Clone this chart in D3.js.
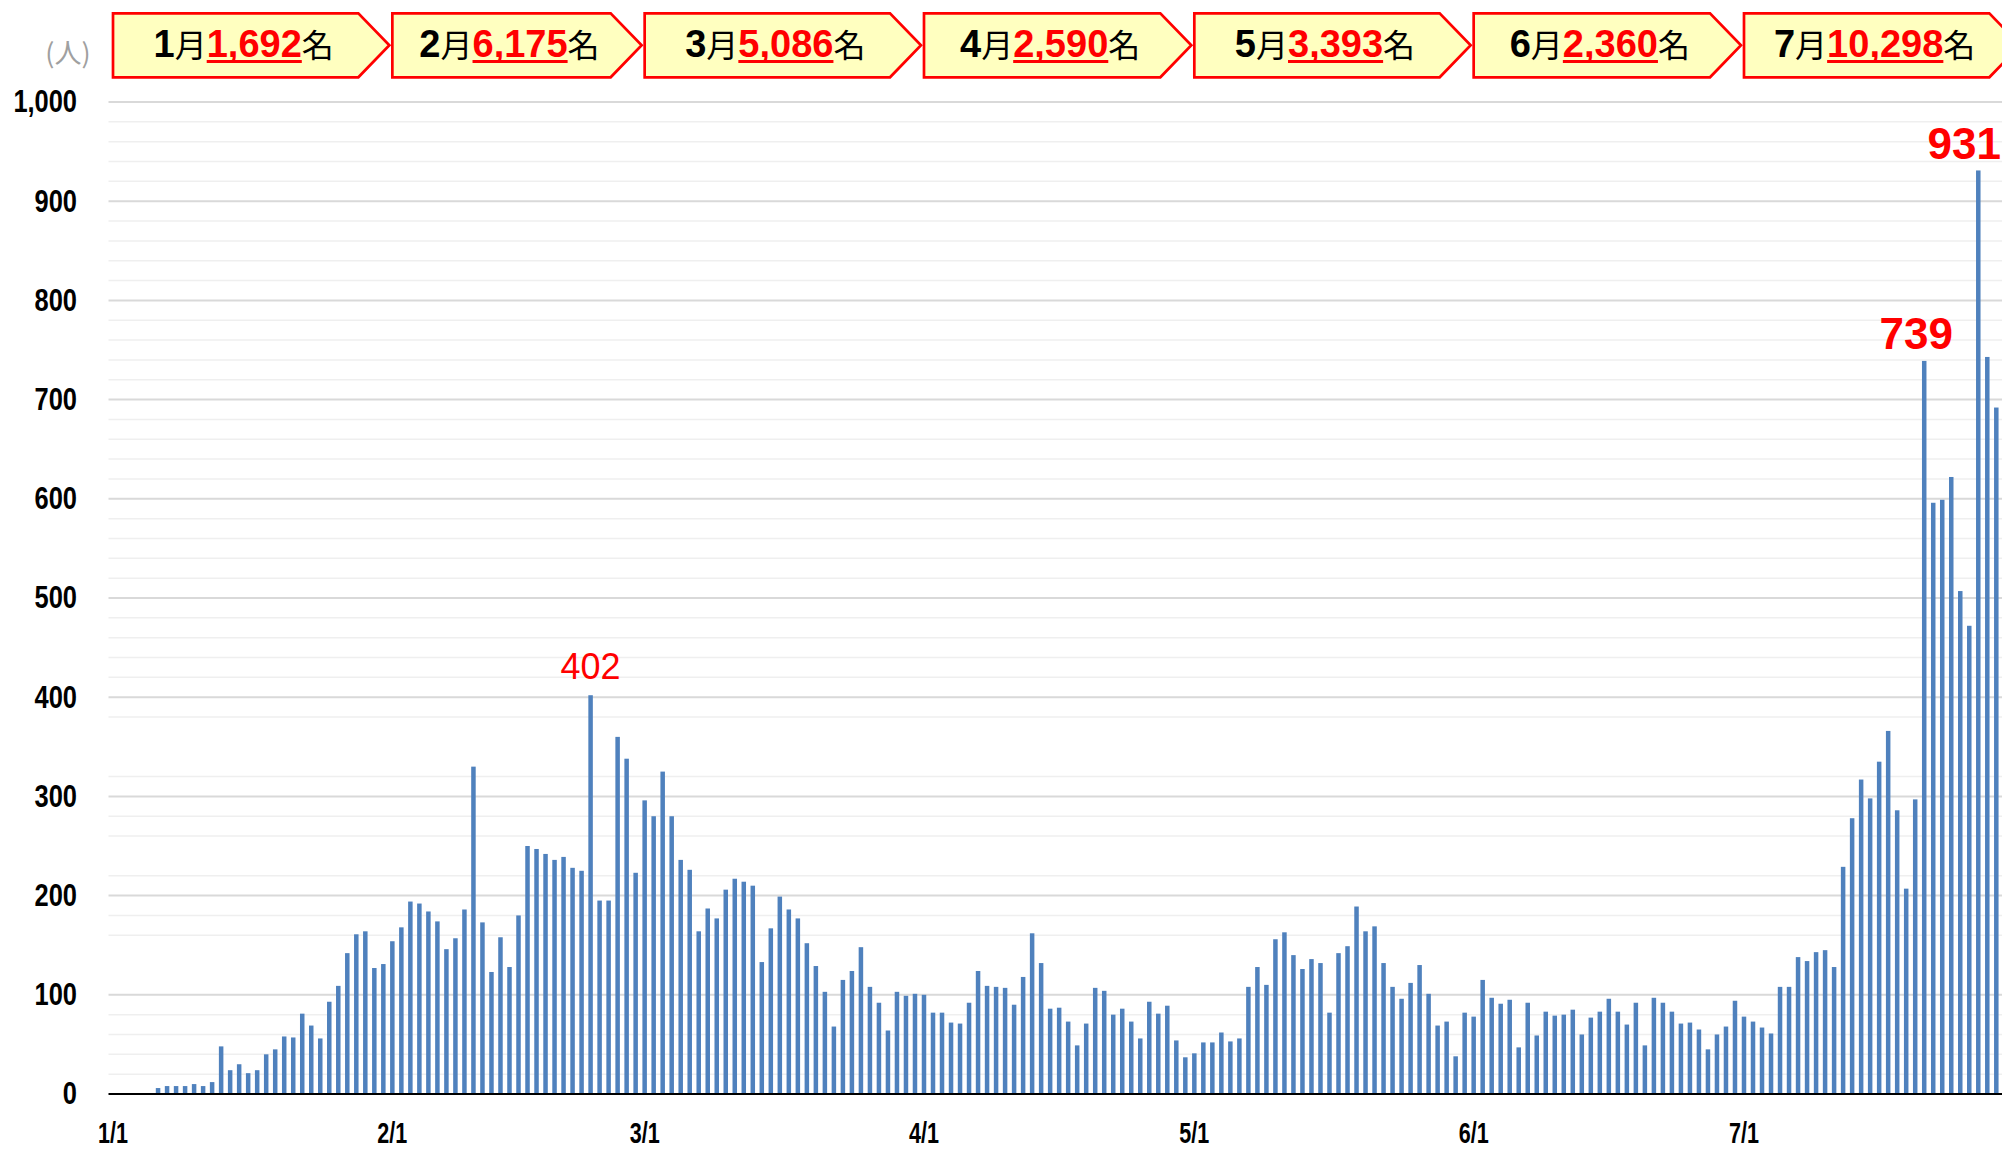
<!DOCTYPE html>
<html><head><meta charset="utf-8">
<script src="https://cdn.jsdelivr.net/npm/d3@7"></script>
<style>
html,body{margin:0;padding:0;background:#fff;}
svg{display:block;}
</style></head>
<body>
<svg id="chart" width="2002" height="1151"></svg>
<script>
// ---------------- data ----------------
const monthNames  = ["1月","2月","3月","4月","5月","6月","7月"];
const monthNums   = ["1","2","3","4","5","6","7"];
const monthTotals = ["1,692","6,175","5,086","2,590","3,393","2,360","10,298"];

const jan = [0,0,1,0,1,6,8,8,8,10,8,12,48,24,30,21,24,40,45,58,57,81,69,56,93,109,142,161,164,127,131];
const feb = [154,168,194,192,184,174,146,157,186,330,173,123,158,128,180,250,247,242,236,239,228,225,402,195,195,360,338,223];
const mar = [296,280,325,280,236,226,164,187,177,206,217,214,210,133,167,199,186,177,152,129,103,68,115,124,148,108,92,64,103,99,101];
const apr = [100,82,82,72,71,92,124,109,108,107,90,118,162,132,86,87,73,49,71,107,104,80,86,73,56,93,81,89,54,37];
const may = [41,52,52,62,53,56,108,128,110,156,163,140,126,136,132,82,142,149,189,164,169,132,108,96,112,130,101,69,73,38,82];
const jun = [78,115,97,91,95,47,92,59,83,79,80,85,60,77,83,96,83,70,92,49,97,92,83,71,72,65,45,60,68,94];
const jul = [78,73,67,61,108,108,138,134,143,145,128,229,278,317,298,335,366,286,207,297,739,596,599,622,507,472,931,743,692];

const yTicks      = [0,100,200,300,400,500,600,700,800,900,1000];
const yTickLabels = ["0","100","200","300","400","500","600","700","800","900","1,000"];
const yMinor      = [20,40,60,80,160,180,220,260,280,320,380,420,440,460,480,520,540,560,580,620,640,660,680,720,740,760,780,820,840,860,880,920,940,960,980];
const xTickLabels = ["1/1","2/1","3/1","4/1","5/1","6/1","7/1"];
const peakDates   = ["2/23","7/21","7/27"];
const unitLabel   = "(人)";

// build daily table
const monthly = [jan,feb,mar,apr,may,jun,jul];
const days = [];
monthly.forEach((arr,m)=>arr.forEach((v,d)=>days.push({date:(m+1)+"/"+(d+1), value:v})));

// ---------------- layout ----------------
const svg = d3.select("#chart");
const W = 2002, H = 1151;
const plotLeft = 108.5, step = 9.011;
const plotRight = plotLeft + step*days.length;
const yBase = 1094, yTop = 102;

const x = d3.scaleBand().domain(days.map(d=>d.date))
  .range([plotLeft, plotRight]).paddingInner(0.5).paddingOuter(0.25);
const y = d3.scaleLinear().domain([0,1000]).range([yBase, yTop]);
const cx = d => x(d) + x.bandwidth()/2;

function condense(sel, k){
  sel.each(function(){
    const len = this.getComputedTextLength();
    d3.select(this).attr("textLength", len*k).attr("lengthAdjust","spacingAndGlyphs");
  });
}

// gridlines
svg.append("g").selectAll("line").data(yMinor).join("line")
  .attr("x1", plotLeft).attr("x2", W).attr("y1", d=>y(d)).attr("y2", d=>y(d))
  .attr("stroke", "#efefef").attr("stroke-width", 1.5);
svg.append("g").selectAll("line").data(yTicks.filter(t=>t>0)).join("line")
  .attr("x1", plotLeft).attr("x2", W).attr("y1", d=>y(d)).attr("y2", d=>y(d))
  .attr("stroke", "#d9d9d9").attr("stroke-width", 2);

// bars
svg.append("g").selectAll("rect").data(days).join("rect")
  .attr("x", d=>x(d.date)).attr("width", x.bandwidth())
  .attr("y", d=>y(d.value)).attr("height", d=>yBase - y(d.value))
  .attr("fill", "#4f81bd");

// baseline
svg.append("line").attr("x1", plotLeft).attr("x2", W).attr("y1", yBase).attr("y2", yBase)
  .attr("stroke", "#000").attr("stroke-width", 2);

// y axis
const yAxis = d3.axisLeft(y).tickValues(yTicks).tickSize(0).tickPadding(plotLeft-77)
  .tickFormat((d,i)=>yTickLabels[i]);
const gy = svg.append("g").attr("transform", `translate(${plotLeft},0)`).call(yAxis);
gy.select(".domain").remove();
gy.selectAll("text").attr("font-family","'Liberation Sans',Arial,sans-serif")
  .attr("font-weight","bold").attr("font-size",31).attr("fill","#000");
condense(gy.selectAll("text"), 0.82);

// x axis
const xAxis = d3.axisBottom(x).tickValues(xTickLabels).tickSize(0).tickPadding(28);
const gx = svg.append("g").attr("transform", `translate(0,${yBase})`).call(xAxis);
gx.select(".domain").remove();
gx.selectAll("text").attr("font-family","'Liberation Sans',Arial,sans-serif")
  .attr("font-weight","bold").attr("font-size",30).attr("fill","#000");
condense(gx.selectAll("text"), 0.72);

// unit label
svg.append("text").attr("x", 68).attr("y", 63).attr("text-anchor","middle")
  .attr("font-family","'Noto Sans CJK JP',sans-serif").attr("font-size",27)
  .attr("fill","#a0a0a0").text(unitLabel);

// peak labels
const peakStyle = {
  "2/23": {dx:0,   dy:-16, size:36, weight:"normal"},
  "7/21": {dx:-8,  dy:-12, size:44, weight:"bold"},
  "7/27": {dx:-14, dy:-11, size:44, weight:"bold"}
};
peakDates.forEach(pd=>{
  const d = days.find(e=>e.date===pd);
  const s = peakStyle[pd];
  svg.append("text").attr("x", cx(pd)+s.dx).attr("y", y(d.value)+s.dy)
    .attr("text-anchor","middle").attr("font-family","'Liberation Sans',Arial,sans-serif")
    .attr("font-size", s.size).attr("font-weight", s.weight).attr("fill","#ff0000")
    .text(d.value);
});

// month header chevrons
const firstDates = monthNums.map(m=>m+"/1");
const boxTop = 13.3, boxBot = 77.3, depth = 31;
monthNames.forEach((mn,i)=>{
  const left = cx(firstDates[i]);
  const tip = (i < monthNames.length-1 ? cx(firstDates[i+1]) : cx(firstDates[0]) + step*212) - 3;
  const mid = (boxTop+boxBot)/2;
  svg.append("path")
    .attr("d", `M${left},${boxTop}L${tip-depth},${boxTop}L${tip},${mid}L${tip-depth},${boxBot}L${left},${boxBot}Z`)
    .attr("fill","#ffffc0").attr("stroke","#ff0000").attr("stroke-width",2.7);
  const t = svg.append("text").attr("x", (left + tip - depth)/2 + 8).attr("y", 57)
    .attr("text-anchor","middle");
  t.append("tspan").attr("font-family","'Liberation Sans',Arial,sans-serif").attr("font-weight","bold")
    .attr("font-size",38).attr("fill","#000").text(monthNums[i]);
  t.append("tspan").attr("font-family","'Noto Sans CJK JP',sans-serif").attr("font-size",32)
    .attr("fill","#000").text("月");
  t.append("tspan").attr("font-family","'Liberation Sans',Arial,sans-serif").attr("font-weight","bold")
    .attr("font-size",38).attr("fill","#ff0000").text(monthTotals[i]);
  t.append("tspan").attr("font-family","'Noto Sans CJK JP',sans-serif").attr("font-size",32)
    .attr("fill","#000").text("名");
  // underline under the number
  const node = t.node();
  const start = monthNums[i].length + 1;
  const n = monthTotals[i].length;
  const p0 = node.getStartPositionOfChar(start).x;
  const p1 = node.getEndPositionOfChar(start+n-1).x;
  svg.append("rect").attr("x", p0).attr("y", 60).attr("width", p1-p0).attr("height", 3)
    .attr("fill","#ff0000");
});
</script>
</body></html>
